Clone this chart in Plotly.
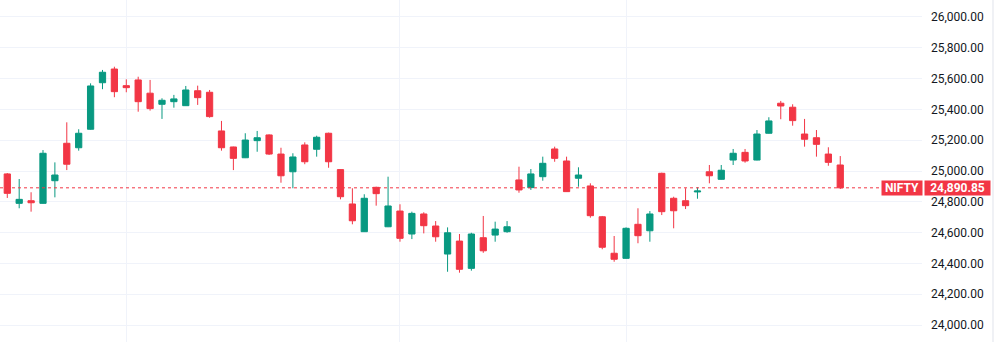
import plotly.graph_objects as go

symbol = "NIFTY"
last_price = 24890.85

opens = [24981, 24790, 24807, 24790, 24937, 25180, 25151, 25271, 25573, 25662,
         25554, 25591, 25505, 25433, 25450, 25424, 25521, 25511, 25260, 25156,
         25086, 25197, 25234, 25110, 24995, 25169, 25141, 25245, 25009, 24786,
         24606, 24894, 24638, 24740, 24591, 24721, 24643, 24461, 24545, 24368,
         24567, 24584, 24606, 24942, 24892, 24963, 25143, 25065, 24953, 24903,
         24703, 24466, 24433, 24654, 24612, 24985, 24823, 24807, 24864, 24995,
         24946, 25071, 25121, 25071, 25245, 25440, 25414, 25240, 25216, 25110,
         25039]
highs = [24987, 24948, 24862, 25136, 25056, 25316, 25271, 25569, 25656, 25677,
         25595, 25612, 25591, 25472, 25494, 25552, 25554, 25526, 25325, 25158,
         25245, 25260, 25238, 25151, 25115, 25186, 25229, 25249, 25011, 24888,
         24849, 24898, 24963, 24784, 24736, 24732, 24675, 24634, 24591, 24599,
         24708, 24671, 24675, 25028, 25013, 25093, 25158, 25093, 25024, 24920,
         24708, 24578, 24634, 24758, 24740, 24989, 24833, 24888, 24894, 25039,
         25039, 25143, 25143, 25266, 25349, 25455, 25433, 25338, 25266, 25154,
         25097]
lows = [24825, 24758, 24736, 24788, 24829, 25006, 25132, 25268, 25531, 25479,
        25511, 25385, 25392, 25338, 25411, 25422, 25429, 25346, 25132, 25006,
        25084, 25125, 25104, 24924, 24888, 25044, 25093, 25021, 24816, 24654,
        24604, 24775, 24636, 24541, 24558, 24595, 24541, 24346, 24340, 24353,
        24469, 24541, 24599, 24859, 24877, 24937, 25060, 24864, 24898, 24697,
        24492, 24411, 24431, 24531, 24541, 24714, 24628, 24753, 24820, 24920,
        24944, 25039, 25054, 25069, 25243, 25336, 25294, 25158, 25093, 25034,
        24883]
closes = [24855, 24816, 24794, 25115, 24974, 25044, 25245, 25552, 25641, 25515,
          25541, 25450, 25405, 25459, 25468, 25526, 25476, 25353, 25151, 25082,
          25201, 25216, 25110, 24969, 25091, 25060, 25219, 25060, 24833, 24677,
          24823, 24853, 24773, 24563, 24725, 24645, 24573, 24599, 24362, 24591,
          24482, 24623, 24638, 24877, 24981, 25050, 25082, 24866, 24974, 24710,
          24505, 24427, 24628, 24580, 24721, 24736, 24742, 24775, 24870, 24969,
          25005, 25115, 25065, 25240, 25325, 25422, 25327, 25206, 25173, 25056,
          24890.85]
bars = list(range(len(closes)))
month_starts = [10, 33, 52]
price_ticks = [24000, 24200, 24400, 24600, 24800, 25000, 25200, 25400, 25600, 25800, 26000]

UP = "#089981"
DOWN = "#F23645"
GRID = "#f0f3fa"

fig = go.Figure(go.Candlestick(
    x=bars, open=opens, high=highs, low=lows, close=closes,
    increasing=dict(line=dict(color=UP, width=1), fillcolor=UP),
    decreasing=dict(line=dict(color=DOWN, width=1), fillcolor=DOWN),
    whiskerwidth=0, showlegend=False, hoverinfo="skip",
))

fig.add_shape(type="line", xref="paper", x0=0, x1=1, yref="y", y0=last_price, y1=last_price,
              line=dict(color=DOWN, width=1, dash="dot"), layer="above")

# right border of the price scale
fig.add_shape(type="line", xref="paper", x0=1.077, x1=1.077, yref="paper", y0=0, y1=1,
              line=dict(color="#e0e3eb", width=1), layer="above")

fig.add_annotation(xref="paper", x=1, xanchor="right", xshift=1, yref="y", y=last_price,
                   text="<b>" + symbol + "</b>", showarrow=False, bgcolor=DOWN,
                   font=dict(color="white", size=12, family="Roboto"),
                   width=40, height=14, borderpad=0, align="center")
fig.add_annotation(xref="paper", x=1, xanchor="left", xshift=2, yref="y", y=last_price,
                   text="<b>" + f"{last_price:,.2f}" + "</b>", showarrow=False, bgcolor=DOWN,
                   font=dict(color="white", size=12, family="Roboto"),
                   width=65, height=14, borderpad=0, align="center")

fig.update_layout(
    width=1005, height=342,
    margin=dict(l=0, r=83, t=0, b=0),
    paper_bgcolor="white", plot_bgcolor="white",
    boxgap=0.25,
    font=dict(family="Roboto", size=12, color="#131722"),
    xaxis=dict(range=[-0.613, 76.87], rangeslider=dict(visible=False),
               tickvals=month_starts, showticklabels=False, ticks="",
               showgrid=True, gridcolor=GRID, gridwidth=1, zeroline=False, showline=False),
    yaxis=dict(side="right", range=[23890, 26110], tickvals=price_ticks, tickformat=",.2f",
               showgrid=True, gridcolor=GRID, gridwidth=1, zeroline=False, showline=False,
               ticks="", ticklabelstandoff=8, tickfont=dict(size=12, color="#131722")),
)

fig.write_html("out.html")
